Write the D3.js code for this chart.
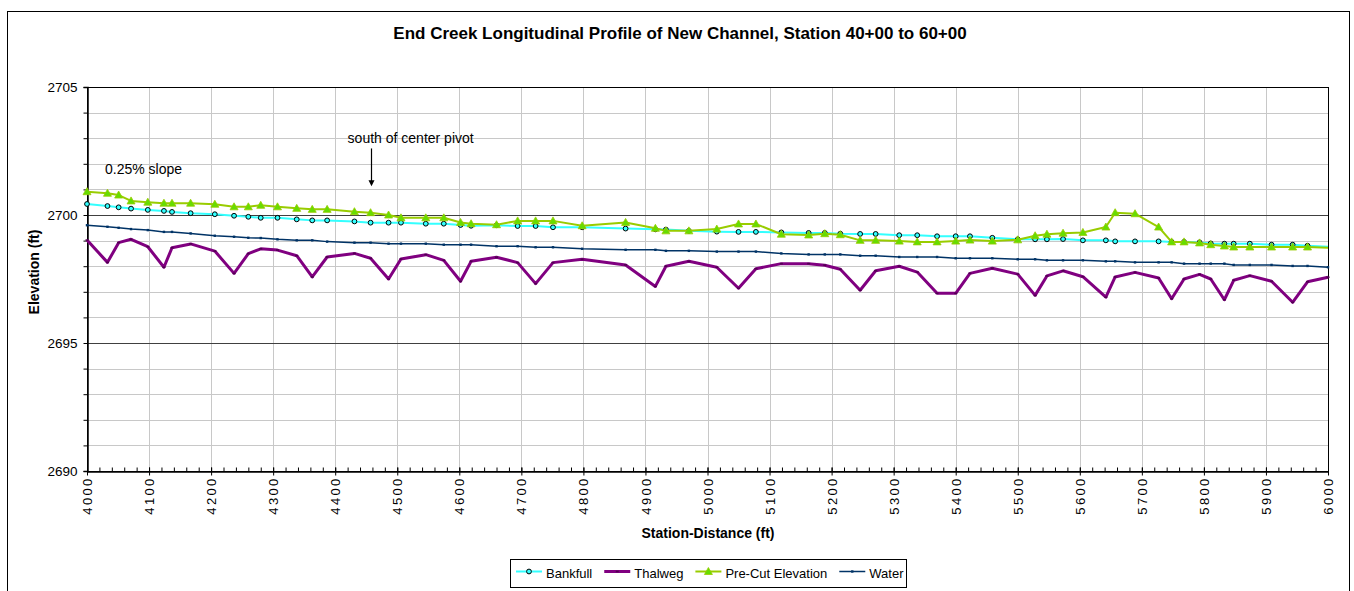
<!DOCTYPE html>
<html>
<head>
<meta charset="utf-8">
<script src="https://cdn.jsdelivr.net/npm/d3@7"></script>
<style>
  body { margin: 0; background: #fff; }
  svg text { font-family: "Liberation Sans", Arial, sans-serif; }
</style>
</head>
<body>
<div id="chart"></div>
<script>
// station (ft) shared by every series
var stations = [4000,4033,4051,4071,4098,4124,4137,4167,4206,4237,4260,4280,4307,4338,4363,4387,4431,4457,4486,
  4506,4546,4575,4602,4619,4660,4694,4723,4751,4798,4868,4916,4933,4970,5015,5050,5078,5119,5163,5189,5214,5246,
  5271,5309,5338,5370,5400,5423,5459,5500,5528,5547,5573,5605,5642,5657,5689,5727,5748,5768,5793,5811,5833,5848,
  5874,5909,5943,5967,6000];

var bankfull = [2700.43,2700.35,2700.30,2700.25,2700.20,2700.16,2700.12,2700.07,2700.03,2699.97,2699.93,2699.89,
  2699.89,2699.83,2699.79,2699.79,2699.75,2699.70,2699.70,2699.70,2699.66,2699.66,2699.61,2699.58,2699.60,2699.57,
  2699.57,2699.52,2699.52,2699.47,2699.44,2699.43,2699.38,2699.35,2699.34,2699.34,2699.32,2699.30,2699.30,2699.27,
  2699.26,2699.26,2699.21,2699.21,2699.17,2699.17,2699.17,2699.11,2699.05,2699.05,2699.05,2699.06,2699.01,2699.01,
  2698.97,2698.97,2698.97,2698.95,2698.95,2698.93,2698.89,2698.88,2698.88,2698.88,2698.84,2698.84,2698.80,2698.76];

var thalweg = [2699.02,2698.15,2698.92,2699.05,2698.76,2697.96,2698.72,2698.87,2698.59,2697.72,2698.49,2698.68,
  2698.63,2698.41,2697.58,2698.36,2698.50,2698.31,2697.50,2698.28,2698.45,2698.23,2697.41,2698.19,2698.35,2698.14,
  2697.32,2698.14,2698.27,2698.05,2697.21,2698.00,2698.19,2697.96,2697.14,2697.90,2698.10,2698.10,2698.04,2697.88,
  2697.06,2697.82,2698.00,2697.77,2696.94,2696.94,2697.72,2697.92,2697.69,2696.86,2697.62,2697.82,2697.59,2696.79,
  2697.58,2697.76,2697.54,2696.73,2697.50,2697.68,2697.50,2696.69,2697.45,2697.63,2697.41,2696.59,2697.39,2697.57];

var preCut = [2700.91,2700.85,2700.78,2700.55,2700.50,2700.46,2700.46,2700.46,2700.42,2700.32,2700.32,2700.38,
  2700.32,2700.26,2700.22,2700.22,2700.13,2700.09,2700.00,2699.89,2699.89,2699.89,2699.71,2699.66,2699.62,2699.77,
  2699.77,2699.77,2699.58,2699.71,2699.48,2699.38,2699.38,2699.45,2699.65,2699.65,2699.25,2699.22,2699.27,2699.23,
  2699.01,2699.01,2698.98,2698.95,2698.95,2698.98,2699.02,2698.98,2699.03,2699.19,2699.25,2699.29,2699.32,2699.53,
  2700.09,2700.05,2699.53,2698.95,2698.95,2698.91,2698.84,2698.79,2698.75,2698.75,2698.75,2698.75,2698.75,2698.72];

var water = [2699.60,2699.54,2699.50,2699.45,2699.41,2699.34,2699.34,2699.28,2699.19,2699.15,2699.11,2699.10,
  2699.05,2699.01,2699.01,2698.96,2698.92,2698.92,2698.88,2698.88,2698.88,2698.84,2698.84,2698.84,2698.78,2698.78,
  2698.74,2698.74,2698.68,2698.64,2698.64,2698.60,2698.60,2698.57,2698.57,2698.57,2698.50,2698.46,2698.46,2698.46,
  2698.41,2698.41,2698.36,2698.36,2698.36,2698.31,2698.31,2698.31,2698.27,2698.27,2698.23,2698.23,2698.23,2698.19,
  2698.19,2698.15,2698.15,2698.15,2698.10,2698.10,2698.10,2698.10,2698.05,2698.05,2698.05,2698.01,2698.01,2697.96];

var xTicks = d3.range(4000, 6001, 100);
var yTicks = [2690, 2695, 2700, 2705];

var W = 1354, H = 591;
var M = {left: 87, right: 1328, top: 87, bottom: 471};

var svg = d3.select("#chart").append("svg").attr("width", W).attr("height", H);

var x = d3.scaleLinear().domain([4000, 6000]).range([M.left, M.right]);
var y = d3.scaleLinear().domain([2690, 2705]).range([M.bottom, M.top]);

// outer chart frame
svg.append("rect").attr("x", 7.5).attr("y", 11.5).attr("width", 1342).attr("height", 600)
  .attr("fill", "none").attr("stroke", "#000");

svg.append("text").attr("x", 680).attr("y", 39).attr("text-anchor", "middle")
  .style("font-size", "17px").style("font-weight", "bold")
  .text("End Creek Longitudinal Profile of New Channel, Station 40+00 to 60+00");

//GRID
var grid = svg.append("g");
grid.selectAll("line.vx").data(xTicks.slice(1, -1)).enter().append("line")
  .attr("x1", function(d){ return Math.round(x(d)) + 0.5; })
  .attr("x2", function(d){ return Math.round(x(d)) + 0.5; })
  .attr("y1", M.top).attr("y2", M.bottom)
  .attr("stroke", "#c8c8c8");
grid.selectAll("line.hy").data(d3.range(2691, 2705).filter(function(v){ return v % 5 != 0; })).enter().append("line")
  .attr("y1", function(d){ return Math.round(y(d)) + 0.5; })
  .attr("y2", function(d){ return Math.round(y(d)) + 0.5; })
  .attr("x1", M.left).attr("x2", M.right)
  .attr("stroke", "#c8c8c8");
grid.selectAll("line.major").data([2695, 2700]).enter().append("line")
  .attr("y1", function(d){ return Math.round(y(d)) + 0.5; })
  .attr("y2", function(d){ return Math.round(y(d)) + 0.5; })
  .attr("x1", M.left).attr("x2", M.right)
  .attr("stroke", "#404040");
svg.append("rect").attr("x", M.left + 0.5).attr("y", M.top + 0.5)
  .attr("width", M.right - M.left).attr("height", M.bottom - M.top)
  .attr("fill", "none").attr("stroke", "#000");

//AXES
var yAxis = svg.append("g").attr("transform", "translate(" + (M.left + 0.5) + ",0)")
  .call(d3.axisLeft(y).tickValues(d3.range(2690, 2706, 1)).tickSize(4).tickFormat(function(d){
    return yTicks.indexOf(d) >= 0 ? d : "";
  }));
yAxis.selectAll("text").style("font-size", "13.5px").attr("x", -10).attr("fill", "#000");
yAxis.selectAll("line, path").attr("stroke", "#000");
yAxis.select("path").attr("stroke-width", 1.5);

var xMinor = svg.append("g").attr("transform", "translate(0," + (M.bottom + 0.5) + ")")
  .call(d3.axisTop(x).tickValues(d3.range(4000, 6001, 20)).tickSize(4).tickFormat(""));
xMinor.select("path").remove();
xMinor.selectAll("line").attr("stroke", "#000");

var xAxis = svg.append("g").attr("transform", "translate(0," + (M.bottom + 0.5) + ")")
  .call(d3.axisBottom(x).tickValues(xTicks).tickSize(4).tickSizeOuter(0).tickFormat(d3.format("d")));
xAxis.select("path").attr("stroke", "#000").attr("stroke-width", 1.5);
xAxis.selectAll("line").attr("stroke", "#000").attr("y1", -4);
xAxis.selectAll("text")
  .style("font-size", "13px").style("letter-spacing", "2.3px").attr("fill", "#000")
  .attr("text-anchor", "end")
  .attr("transform", "rotate(-90)")
  .attr("x", -5).attr("y", 0).attr("dy", "0.35em");

svg.append("text").attr("x", 708).attr("y", 538).attr("text-anchor", "middle")
  .style("font-size", "14px").style("font-weight", "bold").text("Station-Distance (ft)");
svg.append("text").attr("transform", "translate(39,272) rotate(-90)").attr("text-anchor", "middle")
  .style("font-size", "14px").style("font-weight", "bold").text("Elevation (ft)");

//SERIES
var series = [
  {name: "Bankfull", values: bankfull, color: "#33ffff", width: 2, marker: "circle"},
  {name: "Thalweg", values: thalweg, color: "#800080", width: 3, marker: "dash"},
  {name: "Pre-Cut Elevation", values: preCut, color: "#99cc00", width: 2, marker: "triangle"},
  {name: "Water", values: water, color: "#003366", width: 1.5, marker: "dot"}
];
var drawOrder = [series[3], series[1], series[0], series[2]];

var line = d3.line().x(function(d){ return x(d[0]); }).y(function(d){ return y(d[1]); });

function drawMarker(g, s, px, py){
  if (s.marker == "circle") {
    g.append("circle").attr("cx", px).attr("cy", py).attr("r", 2.4)
      .attr("fill", "#33ffff").attr("stroke", "#000").attr("stroke-width", 1);
  } else if (s.marker == "triangle") {
    g.append("path").attr("transform", "translate(" + px + "," + py + ")")
      .attr("d", "M0,-4L4,3L-4,3Z").attr("fill", "#66dd00").attr("stroke", "#99cc00").attr("stroke-width", 0.8);
  } else if (s.marker == "dot") {
    g.append("rect").attr("x", px - 1.2).attr("y", py - 1.2).attr("width", 2.4).attr("height", 2.4)
      .attr("fill", "#003366");
  } else {
    g.append("rect").attr("x", px - 1.5).attr("y", py - 0.8).attr("width", 3).attr("height", 1.6)
      .attr("fill", "#500050");
  }
}

drawOrder.forEach(function(s){
  var pts = stations.map(function(st, i){ return [st, s.values[i]]; });
  var g = svg.append("g");
  g.append("path").attr("d", line(pts)).attr("fill", "none")
    .attr("stroke", s.color).attr("stroke-width", s.width).attr("stroke-linejoin", "round");
  pts.forEach(function(p){
    if (p[0] >= 6000 && (s.marker == "circle" || s.marker == "triangle")) return;
    drawMarker(g, s, x(p[0]), y(p[1]));
  });
});

//ANNOTATIONS
svg.append("text").attr("x", x(4029)).attr("y", y(2701.62)).style("font-size", "14px").text("0.25% slope");
svg.append("text").attr("x", x(4420)).attr("y", y(2702.8)).style("font-size", "14px").text("south of center pivot");
svg.append("line").attr("x1", Math.round(x(4458)) + 0.5).attr("x2", Math.round(x(4458)) + 0.5)
  .attr("y1", y(2702.6)).attr("y2", y(2701.2)).attr("stroke", "#000").attr("stroke-width", 1.2);
svg.append("path").attr("transform", "translate(" + (Math.round(x(4458)) + 0.5) + "," + y(2701.12) + ")")
  .attr("d", "M-3,-6L3,-6L0,0Z").attr("fill", "#000");

//LEGEND
var lg = svg.append("g").attr("transform", "translate(510,559)");
lg.append("rect").attr("x", 0.5).attr("y", 0.5).attr("width", 396).attr("height", 28)
  .attr("fill", "#fff").attr("stroke", "#000");
var lx = 6;
series.forEach(function(s){
  var item = lg.append("g");
  item.append("line").attr("x1", lx).attr("x2", lx + 26).attr("y1", 12.5).attr("y2", 12.5)
    .attr("stroke", s.color).attr("stroke-width", s.width);
  drawMarker(item, s, lx + 13, 12.5);
  var t = item.append("text").attr("x", lx + 30).attr("y", 19).style("font-size", "13px").text(s.name);
  lx += 30 + t.node().getComputedTextLength() + 12;
});
</script>
</body>
</html>
